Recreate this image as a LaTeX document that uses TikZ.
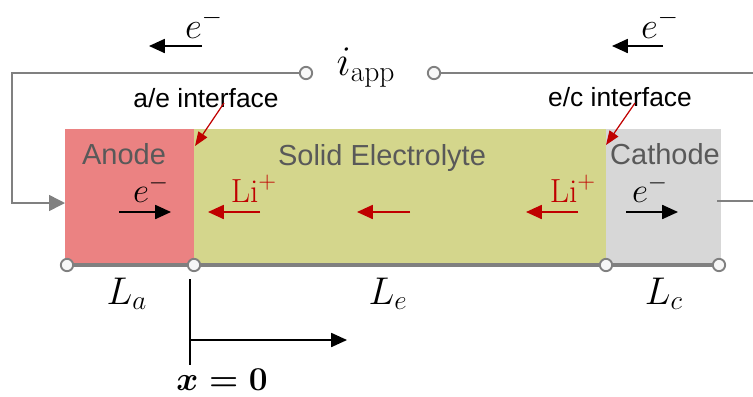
\RequirePackage{fix-cm}
\documentclass[tikz,border=0pt]{standalone}
\usepackage{amsmath, amssymb}
\usepackage{fontspec}
\newfontfamily\labelfont{Liberation Sans}
\usepackage{tikz}
\usetikzlibrary{arrows.meta}

\definecolor{anodecol}{RGB}{235,130,130}
\definecolor{elytecol}{RGB}{212,214,140}
\definecolor{cathcol}{RGB}{215,215,215}
\definecolor{labelgray}{RGB}{89,89,89}
\definecolor{ionred}{RGB}{192,0,0}

\tikzset{
  wire/.style={draw=gray, line width=0.85pt},
  term/.style={circle, draw=gray, fill=white!94!gray, line width=1.1pt, inner sep=0pt, minimum size=7pt},
  layer/.style={anchor=base, inner sep=1pt, font=\labelfont\fontsize{16.5}{18}\selectfont, text=labelgray},
  tag/.style={anchor=base, font=\labelfont\fontsize{15}{17}\selectfont},
  big/.style={anchor=base, inner sep=1pt, font=\fontsize{19}{22}\selectfont},
  eflow/.style={-{Triangle[length=9pt, width=8pt]}, line width=0.9pt},
  ionflow/.style={-{Triangle[length=9pt, width=8pt]}, line width=0.9pt, ionred},
  pointer/.style={-{Triangle[length=8pt, width=6pt]}, line width=0.7pt, ionred},
}

\begin{document}
\begin{tikzpicture}[x=0.02cm, y=-0.02cm]
  \useasboundingbox (0,0) rectangle (753,396);

  % cell layers
  \fill[anodecol] (65,129) rectangle (194,265);
  \fill[elytecol] (194,129) rectangle (606,265);
  \fill[cathcol] (606,129) rectangle (721,265);

  \node[layer] (anode) at (124,164) {Anode};
  \node[layer] (elyte) at (382,165) {Solid Electrolyte};
  \node[layer] (cathode) at (665,164) {Cathode};

  % bottom axis with terminals
  \node[term] (p0) at (67,265) {};
  \node[term] (p1) at (194,265) {};
  \node[term] (p2) at (606,265) {};
  \node[term] (p3) at (719,265) {};
  \draw[draw=gray, line width=2.2pt] (p0) -- (p1) -- (p2) -- (p3);

  \node[big, font=\fontsize{22}{25}\selectfont] (La) at (127,304) {$L_a$};
  \node[big, font=\fontsize{22}{25}\selectfont] (Le) at (388,304) {$L_e$};
  \node[big, font=\fontsize{22}{25}\selectfont] (Lc) at (664,304) {$L_c$};

  % external circuit
  \node[term] (tl) at (306,73) {};
  \node[term] (tr) at (434,73) {};
  \node[big, font=\fontsize{24}{27}\selectfont] (iapp) at (366,75) {$i_{\mathrm{app}}$};
  \coordinate (wl) at (12,73);
  \coordinate (wb) at (12,203);
  \coordinate (ain) at (65,203);
  \coordinate (wr) at (753,73);
  \coordinate (cout) at (717,201);
  \coordinate (cend) at (753,201);
  \draw[wire, -{Triangle[length=9pt, width=9pt]}] (tl) -- (wl) -- (wb) -- (ain);
  \draw[wire] (tr) -- (wr);
  \draw[wire] (cout) -- (cend);

  % electron flow in wire
  \node[big, font=\fontsize{21}{24}\selectfont] (etopl) at (204,38) {$e^-$};
  \node[big, font=\fontsize{21}{24}\selectfont] (etopr) at (660,38) {$e^-$};
  \coordinate (e1a) at (202,46); \coordinate (e1b) at (149,46);
  \coordinate (e2a) at (663,46); \coordinate (e2b) at (612,46);
  \draw[eflow] (e1a) -- (e1b);
  \draw[eflow] (e2a) -- (e2b);

  % interfaces
  \node[tag] (ae) at (206,107) {a/e interface};
  \node[tag] (ec) at (620,106) {e/c interface};
  \coordinate (aefrom) at (224,103); \coordinate (aeto) at (195,146);
  \coordinate (ecfrom) at (635,103); \coordinate (ecto) at (606,145);
  \draw[pointer] (aefrom) -- (aeto);
  \draw[pointer] (ecfrom) -- (ecto);

  % flows inside the cell
  \node[big, font=\fontsize{20}{23}\selectfont] (ea) at (151,202) {$e^-$};
  \node[big, font=\fontsize{20}{23}\selectfont] (ec2) at (650,202) {$e^-$};
  \node[big, text=ionred] (li1) at (254,202) {$\mathrm{Li}^+$};
  \node[big, text=ionred] (li2) at (573,202) {$\mathrm{Li}^+$};
  \coordinate (f1a) at (119,212); \coordinate (f1b) at (171,212);
  \coordinate (f2a) at (626,212); \coordinate (f2b) at (678,212);
  \coordinate (g1a) at (260,212); \coordinate (g1b) at (208,212);
  \coordinate (g2a) at (410,212); \coordinate (g2b) at (357,212);
  \coordinate (g3a) at (578,212); \coordinate (g3b) at (526,212);
  \draw[eflow] (f1a) -- (f1b);
  \draw[eflow] (f2a) -- (f2b);
  \draw[ionflow] (g1a) -- (g1b);
  \draw[ionflow] (g2a) -- (g2b);
  \draw[ionflow] (g3a) -- (g3b);

  % origin
  \coordinate (x0top) at (190,279); \coordinate (x0bot) at (190,365);
  \coordinate (xax) at (190,340); \coordinate (xend) at (347,340);
  \draw[line width=0.9pt] (x0top) -- (x0bot);
  \draw[eflow] (xax) -- (xend);
  \node[big] (x0) at (222,390) {$\boldsymbol{x = 0}$};
\end{tikzpicture}
\end{document}
